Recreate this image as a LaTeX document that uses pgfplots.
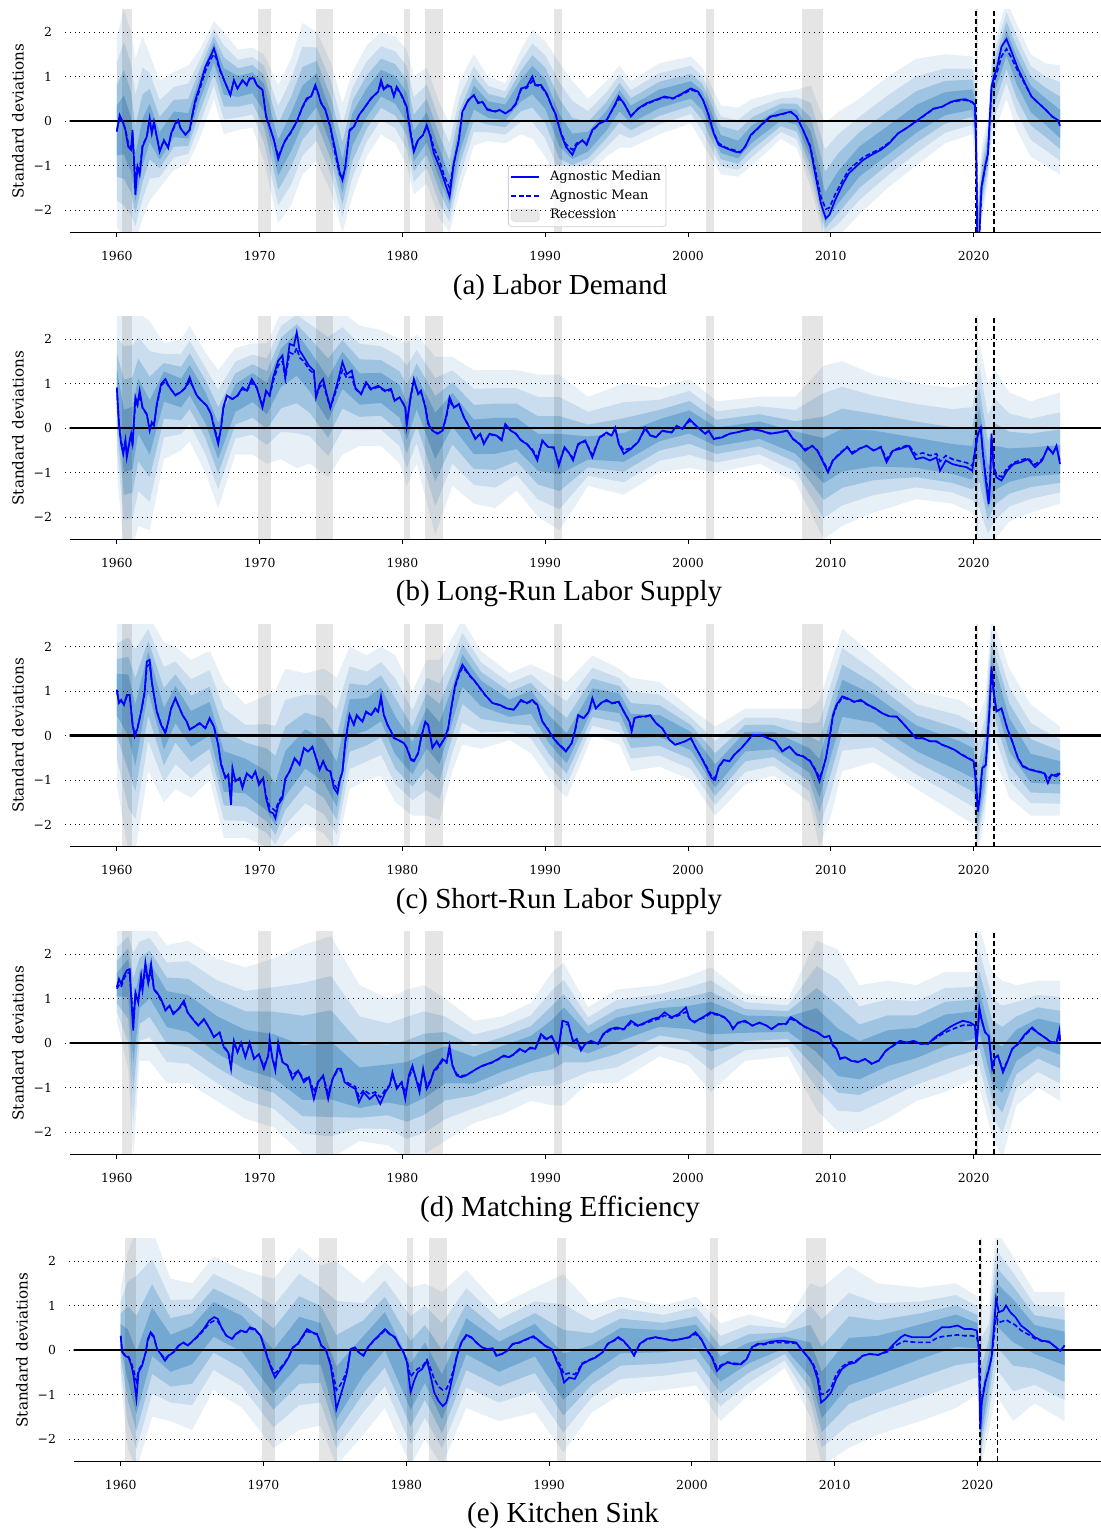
\documentclass[border=0pt]{standalone}
\usepackage{fontspec}
\setmainfont{DejaVu Serif}
\newfontfamily\capfont{Liberation Serif}
\usepackage{pgfplots}
\pgfplotsset{compat=1.18}
\usepackage{pgfplotstable}
\usepgfplotslibrary{fillbetween}

\definecolor{bandA}{RGB}{232,240,247}
\definecolor{bandB}{RGB}{201,221,238}
\definecolor{bandC}{RGB}{158,196,226}
\definecolor{bandD}{RGB}{115,168,210}

% ---------- (a) Labor Demand ----------
\pgfplotstableread{
x c lo hi
1960.0 -0.2 -2.4 1.9
1960.5 -0.1 -2.6 2.5
1961.0 -0.6 -2.7 2.0
1961.3 -1.5 -2.7 1.4
1961.8 -0.6 -2.2 1.9
1962.3 0.0 -1.8 1.5
1963.0 -0.65 -1.5 0.9
1964.0 -0.1 -1.1 1.1
1965.0 -0.2 -0.95 1.25
1965.8 0.75 -0.4 1.6
1966.8 1.6 0.5 2.25
1967.5 0.9 -0.3 2.0
1968.5 0.8 -0.2 1.6
1969.5 0.9 -0.15 1.65
1970.3 0.6 -0.9 1.5
1971.3 -0.85 -2.3 0.8
1972.2 -0.25 -1.9 1.4
1973.0 0.3 -1.2 2.2
1974.0 0.75 -0.9 2.0
1975.0 -0.2 -1.6 1.3
1975.8 -1.3 -2.5 0.4
1976.5 -0.15 -1.7 1.1
1977.5 0.4 -0.8 1.7
1978.5 0.85 -0.3 2.0
1979.5 0.7 -0.5 1.9
1980.3 0.3 -1.0 1.6
1980.8 -0.65 -1.65 1.0
1981.7 -0.15 -1.4 1.2
1982.6 -1.0 -2.2 0.4
1983.3 -1.65 -2.5 -0.05
1984.0 -0.4 -1.6 0.9
1985.0 0.55 -0.55 1.5
1986.0 0.25 -0.45 1.0
1987.2 0.2 -0.5 0.85
1988.3 0.7 -0.3 1.6
1989.1 0.95 -0.4 2.05
1990.0 0.65 -0.8 1.8
1991.0 -0.25 -1.5 1.3
1991.9 -0.7 -1.3 0.9
1993.0 -0.5 -1.2 0.5
1994.3 0.0 -0.8 0.9
1995.2 0.5 -0.6 1.25
1996.0 0.15 -0.6 0.9
1998.0 0.5 -0.3 1.3
2000.2 0.7 -0.05 1.45
2001.0 0.5 -0.5 1.2
2002.3 -0.55 -1.2 0.35
2003.5 -0.7 -1.25 0.3
2004.5 -0.3 -1.0 0.5
2006.5 0.15 -0.4 0.65
2007.6 0.1 -0.6 0.7
2008.6 -0.6 -1.5 0.8
2009.6 -2.15 -2.7 -0.05
2010.5 -1.6 -2.6 0.2
2012.0 -0.95 -2.1 0.5
2014.0 -0.5 -1.5 1.0
2016.0 0.0 -1.0 1.4
2018.0 0.35 -0.5 1.5
2019.9 0.45 -0.3 1.45
2020.15 0.2 -1.0 1.0
2020.3 -2.4 -2.7 -1.5
2020.6 -1.4 -2.2 -0.5
2021.0 -0.7 -1.4 0.1
2021.3 0.8 -0.4 1.6
2022.3 1.8 0.5 2.7
2023.0 1.2 -0.2 2.2
2024.0 0.55 -0.8 1.5
2025.0 0.25 -1.0 1.3
2026.05 -0.1 -1.2 1.25
}\bandA
\pgfplotstableread{
x med mean
1960.0 -0.24 -0.22
1960.2 0.13 0.1
1960.45 -0.05 -0.05
1960.6 -0.2 -0.18
1960.8 -0.58 -0.5
1961.0 -0.65 -0.6
1961.1 -0.2 -0.3
1961.3 -1.66 -1.3
1961.45 -1.03 -1.0
1961.6 -1.2 -1.1
1961.8 -0.58 -0.55
1962.1 -0.35 -0.35
1962.3 0.06 0.02
1962.45 -0.28 -0.25
1962.6 -0.02 -0.05
1963.0 -0.69 -0.65
1963.3 -0.43 -0.45
1963.6 -0.61 -0.58
1963.8 -0.28 -0.3
1964.1 -0.05 -0.08
1964.3 0.02 0.0
1964.45 -0.16 -0.15
1964.8 -0.31 -0.3
1965.1 -0.2 -0.2
1965.3 0.17 0.12
1965.5 0.47 0.42
1965.8 0.77 0.7
1966.2 1.22 1.12
1966.6 1.48 1.4
1966.8 1.63 1.5
1966.95 1.48 1.42
1967.2 1.18 1.15
1967.6 0.85 0.85
1967.95 0.58 0.6
1968.2 0.92 0.9
1968.45 0.73 0.73
1968.8 0.92 0.9
1969.1 0.81 0.8
1969.3 0.96 0.95
1969.6 0.96 0.95
1969.8 0.81 0.8
1970.2 0.7 0.7
1970.45 0.1 0.12
1970.7 -0.13 -0.12
1971.0 -0.43 -0.42
1971.3 -0.86 -0.8
1971.6 -0.58 -0.58
1971.8 -0.43 -0.45
1972.2 -0.24 -0.26
1972.6 -0.01 -0.02
1973.0 0.32 0.3
1973.3 0.51 0.48
1973.6 0.55 0.55
1973.9 0.81 0.75
1974.1 0.62 0.62
1974.3 0.4 0.42
1974.6 0.25 0.26
1974.95 -0.13 -0.15
1975.3 -0.65 -0.75
1975.6 -1.14 -1.2
1975.8 -1.33 -1.28
1976.0 -1.03 -1.05
1976.3 -0.2 -0.22
1976.6 -0.13 -0.14
1976.95 0.13 0.12
1977.3 0.28 0.28
1977.8 0.51 0.5
1978.3 0.66 0.66
1978.5 0.92 0.85
1978.7 0.71 0.7
1978.95 0.81 0.78
1979.2 0.77 0.75
1979.4 0.55 0.57
1979.6 0.77 0.74
1979.95 0.58 0.56
1980.3 0.32 0.3
1980.6 -0.35 -0.3
1980.8 -0.69 -0.62
1981.1 -0.43 -0.42
1981.45 -0.31 -0.32
1981.7 -0.09 -0.12
1981.95 -0.35 -0.3
1982.2 -0.73 -0.6
1982.6 -1.03 -0.9
1982.95 -1.36 -1.25
1983.3 -1.7 -1.5
1983.6 -0.95 -0.95
1983.95 -0.43 -0.45
1984.2 0.21 0.2
1984.6 0.47 0.45
1985.0 0.58 0.58
1985.3 0.4 0.42
1985.6 0.43 0.43
1985.95 0.25 0.27
1986.5 0.21 0.22
1986.8 0.25 0.24
1987.2 0.17 0.18
1987.6 0.25 0.25
1987.95 0.4 0.38
1988.3 0.73 0.7
1988.7 0.77 0.74
1989.1 1.0 0.9
1989.3 0.81 0.8
1989.7 0.81 0.78
1990.1 0.62 0.6
1990.5 0.3 0.3
1990.7 0.17 0.18
1991.1 -0.28 -0.26
1991.45 -0.58 -0.52
1991.9 -0.76 -0.65
1992.2 -0.54 -0.5
1992.6 -0.43 -0.45
1992.9 -0.54 -0.5
1993.3 -0.2 -0.22
1993.8 -0.05 -0.06
1994.3 0.02 0.02
1994.8 0.32 0.3
1995.15 0.55 0.5
1995.5 0.4 0.4
1996.0 0.1 0.12
1996.5 0.28 0.27
1997.1 0.4 0.38
1997.7 0.47 0.46
1998.35 0.55 0.53
1998.95 0.51 0.5
1999.6 0.62 0.6
2000.2 0.73 0.7
2000.7 0.66 0.65
2001.05 0.47 0.47
2001.4 0.17 0.18
2001.8 -0.28 -0.26
2002.15 -0.54 -0.5
2002.65 -0.61 -0.6
2003.3 -0.69 -0.66
2003.65 -0.71 -0.7
2004.0 -0.58 -0.57
2004.4 -0.31 -0.32
2004.9 -0.16 -0.17
2005.25 -0.05 -0.06
2005.75 0.1 0.09
2006.2 0.13 0.12
2006.7 0.17 0.16
2007.2 0.21 0.2
2007.6 0.1 0.1
2008.05 -0.2 -0.2
2008.55 -0.58 -0.55
2008.9 -1.18 -1.08
2009.3 -1.85 -1.7
2009.65 -2.19 -1.98
2009.9 -2.11 -1.95
2010.3 -1.78 -1.65
2010.8 -1.44 -1.35
2011.25 -1.18 -1.1
2011.75 -1.03 -0.96
2012.25 -0.88 -0.82
2012.85 -0.76 -0.72
2013.5 -0.65 -0.62
2014.1 -0.5 -0.48
2014.7 -0.28 -0.28
2015.3 -0.16 -0.16
2015.95 -0.01 -0.02
2016.55 0.13 0.12
2017.2 0.28 0.27
2017.8 0.32 0.32
2018.4 0.43 0.42
2018.9 0.47 0.45
2019.4 0.49 0.47
2019.9 0.43 0.42
2020.1 0.36 0.35
2020.2 -1.03 -1.0
2020.25 -2.6 -2.5
2020.4 -2.6 -2.6
2020.55 -1.48 -1.5
2020.8 -1.03 -1.05
2021.0 -0.73 -0.75
2021.25 0.77 0.7
2021.4 0.96 0.85
2021.65 1.22 1.1
2021.95 1.67 1.45
2022.3 1.84 1.62
2022.6 1.6 1.45
2023.1 1.18 1.12
2023.55 0.88 0.85
2024.05 0.55 0.55
2024.55 0.4 0.4
2025.05 0.25 0.25
2025.5 0.1 0.1
2025.9 0.02 0.02
2026.05 -0.11 -0.1
}\lineA

% ---------- (b) Long-Run Labor Supply ----------
\pgfplotstableread{
x c lo hi
1960.0 0.9 -1.0 2.5
1960.5 -0.4 -2.7 2.7
1961.1 -0.3 -2.7 2.7
1961.5 0.6 -2.2 2.6
1962.3 0.0 -2.3 2.4
1963.3 1.05 -0.7 1.9
1964.5 0.8 -0.5 2.0
1965.1 1.1 -0.3 2.3
1966.2 0.5 -1.0 1.7
1967.1 -0.3 -1.8 1.3
1968.3 0.7 -0.6 1.8
1969.5 1.0 -0.6 1.9
1970.5 0.7 -0.8 1.9
1971.5 1.5 -0.7 2.6
1972.6 1.9 -0.9 2.8
1973.5 1.4 -0.8 2.7
1974.8 0.6 -1.1 2.6
1975.8 1.4 -0.6 2.6
1977.0 0.85 -0.4 2.3
1978.5 0.9 -0.4 2.2
1979.8 0.6 -0.8 2.0
1980.3 0.1 -1.3 1.9
1981.0 0.85 -0.8 2.1
1982.3 -0.1 -2.4 1.6
1983.5 0.5 -1.3 1.6
1985.0 -0.2 -1.7 1.3
1986.5 -0.15 -1.8 1.3
1988.0 -0.15 -1.4 1.3
1989.5 -0.6 -2.0 1.2
1991.0 -0.6 -2.3 1.2
1993.0 -0.5 -1.3 0.7
1995.5 -0.5 -1.5 1.0
1998.0 -0.05 -1.0 0.9
2000.1 0.15 -0.9 1.1
2002.0 -0.2 -1.0 0.6
2005.0 -0.05 -0.8 0.7
2007.5 -0.35 -1.2 0.7
2009.5 -0.8 -2.5 1.4
2010.8 -0.55 -2.2 1.5
2013.0 -0.5 -1.9 1.2
2016.0 -0.65 -1.6 1.0
2018.5 -0.8 -1.7 0.9
2019.9 -0.9 -1.9 1.0
2020.4 0.0 -2.5 1.9
2021.0 -1.5 -2.7 1.0
2021.5 -1.0 -2.5 1.3
2022.5 -0.9 -2.1 0.8
2024.0 -0.8 -1.9 0.6
2026.05 -0.8 -1.7 0.8
}\bandB
\pgfplotstableread{
x med mean
1960.0 0.91 0.9
1960.15 0.09 0.1
1960.3 -0.36 -0.3
1960.45 -0.58 -0.5
1960.6 -0.28 -0.3
1960.7 -0.66 -0.6
1960.9 -0.28 -0.3
1961.0 -0.13 -0.15
1961.1 -0.4 -0.35
1961.3 0.69 0.6
1961.45 0.54 0.5
1961.6 0.84 0.75
1961.8 0.46 0.45
1962.1 0.31 0.3
1962.3 -0.06 -0.02
1962.45 0.13 0.1
1962.6 0.05 0.06
1962.8 0.54 0.5
1963.1 0.99 0.95
1963.4 1.1 1.05
1963.7 0.91 0.9
1964.1 0.73 0.75
1964.45 0.8 0.8
1964.8 0.91 0.9
1965.1 1.14 1.05
1965.3 0.95 0.95
1965.6 0.73 0.72
1965.95 0.61 0.6
1966.3 0.5 0.5
1966.6 0.31 0.32
1966.8 0.01 0.05
1967.1 -0.36 -0.3
1967.3 0.01 0.0
1967.45 0.46 0.42
1967.7 0.73 0.7
1968.1 0.65 0.65
1968.45 0.73 0.72
1968.8 0.91 0.88
1969.1 0.84 0.82
1969.45 1.1 1.02
1969.8 0.91 0.9
1970.2 0.46 0.5
1970.45 0.84 0.8
1970.7 0.73 0.72
1970.95 1.14 1.05
1971.3 1.51 1.4
1971.6 1.63 1.5
1971.8 1.14 1.1
1972.1 1.89 1.7
1972.4 1.85 1.65
1972.6 2.15 1.8
1972.8 1.74 1.58
1973.1 1.59 1.5
1973.45 1.4 1.32
1973.8 1.29 1.22
1973.95 0.69 0.7
1974.2 0.99 0.92
1974.45 1.1 1.0
1974.7 0.76 0.72
1974.95 0.46 0.45
1975.3 0.84 0.78
1975.6 1.21 1.1
1975.8 1.48 1.3
1976.1 1.21 1.12
1976.45 1.29 1.15
1976.7 0.91 0.88
1977.1 0.76 0.76
1977.45 1.03 0.98
1977.8 0.88 0.86
1978.3 0.95 0.92
1978.8 0.84 0.82
1979.2 0.88 0.85
1979.45 0.61 0.62
1979.8 0.69 0.68
1980.2 0.46 0.48
1980.3 0.05 0.12
1980.6 0.76 0.72
1980.8 1.1 1.02
1981.1 0.76 0.8
1981.3 0.84 0.8
1981.6 0.46 0.5
1981.8 0.09 0.12
1982.1 -0.06 -0.05
1982.45 -0.13 -0.12
1982.8 -0.06 -0.08
1983.1 0.31 0.28
1983.3 0.69 0.6
1983.6 0.46 0.46
1983.95 0.54 0.52
1984.3 0.24 0.25
1984.7 0.01 0.02
1985.1 -0.25 -0.22
1985.45 -0.13 -0.14
1985.7 -0.36 -0.32
1986.1 -0.13 -0.15
1986.6 -0.17 -0.17
1986.95 -0.28 -0.25
1987.2 0.09 0.05
1987.6 -0.06 -0.06
1987.95 -0.13 -0.13
1988.3 -0.28 -0.27
1988.7 -0.36 -0.35
1989.1 -0.51 -0.48
1989.45 -0.73 -0.66
1989.8 -0.28 -0.3
1990.2 -0.43 -0.42
1990.6 -0.43 -0.45
1990.95 -0.85 -0.8
1991.35 -0.43 -0.45
1991.7 -0.58 -0.56
1991.95 -0.73 -0.68
1992.3 -0.36 -0.38
1992.8 -0.28 -0.3
1993.3 -0.66 -0.6
1993.8 -0.21 -0.22
1994.3 -0.1 -0.12
1994.65 -0.17 -0.17
1994.9 0.01 -0.02
1995.15 -0.36 -0.34
1995.5 -0.58 -0.5
1996.0 -0.47 -0.45
1996.5 -0.32 -0.32
1997.0 0.01 -0.02
1997.35 -0.17 -0.16
1997.75 -0.21 -0.2
1998.2 -0.06 -0.07
1998.85 -0.1 -0.1
1999.2 0.05 0.04
1999.6 -0.02 -0.02
2000.1 0.2 0.16
2000.45 0.09 0.08
2000.8 -0.02 -0.02
2001.2 -0.13 -0.12
2001.45 -0.06 -0.07
2001.8 -0.25 -0.24
2002.4 -0.21 -0.2
2002.9 -0.13 -0.13
2003.4 -0.1 -0.1
2003.9 -0.06 -0.06
2004.5 -0.02 -0.03
2005.1 -0.06 -0.06
2005.75 -0.13 -0.12
2006.35 -0.1 -0.1
2006.95 -0.06 -0.06
2007.35 -0.25 -0.24
2007.8 -0.36 -0.35
2008.2 -0.51 -0.48
2008.7 -0.4 -0.4
2009.05 -0.51 -0.5
2009.4 -0.73 -0.7
2009.8 -1.0 -0.95
2010.15 -0.73 -0.72
2010.65 -0.58 -0.56
2011.15 -0.43 -0.42
2011.5 -0.58 -0.55
2012.0 -0.47 -0.46
2012.5 -0.4 -0.4
2013.0 -0.51 -0.5
2013.5 -0.43 -0.42
2013.9 -0.77 -0.7
2014.35 -0.51 -0.5
2014.85 -0.47 -0.44
2015.45 -0.4 -0.38
2015.95 -0.7 -0.6
2016.45 -0.66 -0.56
2016.95 -0.73 -0.62
2017.4 -0.66 -0.58
2017.65 -0.96 -0.75
2018.05 -0.73 -0.62
2018.5 -0.81 -0.7
2019.0 -0.85 -0.74
2019.5 -0.88 -0.78
2019.9 -0.96 -0.85
2020.1 -0.51 -0.5
2020.3 -0.13 -0.15
2020.5 0.01 -0.05
2020.65 -0.58 -0.55
2020.85 -1.18 -1.1
2021.05 -1.71 -1.5
2021.15 -1.26 -1.2
2021.25 -0.13 -0.25
2021.4 -0.88 -0.85
2021.6 -1.11 -1.05
2021.95 -1.18 -1.1
2022.35 -0.96 -0.9
2022.8 -0.81 -0.78
2023.3 -0.77 -0.72
2023.8 -0.7 -0.68
2024.3 -0.88 -0.82
2024.8 -0.73 -0.7
2025.2 -0.43 -0.45
2025.55 -0.58 -0.56
2025.8 -0.4 -0.42
2026.05 -0.81 -0.75
}\lineB

% ---------- (c) Short-Run Labor Supply ----------
\pgfplotstableread{
x c lo hi
1960.0 1.0 -1.1 2.5
1960.8 0.9 -2.6 2.7
1961.3 0.0 -2.6 2.7
1962.2 1.6 -0.8 2.7
1963.3 0.1 -1.5 2.1
1964.1 0.8 -1.2 2.0
1965.2 0.15 -1.4 1.7
1966.5 0.35 -1.0 1.9
1967.5 -0.9 -2.3 1.2
1969.0 -0.95 -2.3 0.7
1970.5 -1.4 -2.5 0.9
1971.1 -1.8 -2.7 1.0
1971.8 -1.0 -2.4 1.5
1973.2 -0.3 -2.0 1.4
1974.5 -0.65 -2.2 1.5
1975.4 -1.25 -2.6 1.3
1976.3 0.4 -1.2 2.0
1977.5 0.5 -1.0 1.8
1978.5 0.75 -0.9 2.0
1979.5 -0.05 -1.5 1.8
1980.7 -0.55 -1.8 1.0
1981.7 0.25 -1.8 1.7
1982.6 -0.2 -1.9 1.7
1983.5 0.7 -0.8 2.2
1984.2 1.55 -0.2 2.6
1985.5 1.0 -0.3 1.9
1987.5 0.6 -0.1 1.4
1989.0 0.8 -0.4 1.6
1990.3 0.1 -1.0 1.4
1991.5 -0.35 -1.4 1.2
1993.3 0.8 0.0 1.8
1995.2 0.75 -0.2 1.5
1996.0 0.2 -0.8 1.3
1998.0 0.2 -0.7 1.2
2000.2 -0.1 -1.0 0.6
2001.9 -0.95 -1.8 0.2
2004.0 -0.1 -1.1 0.6
2006.0 -0.1 -0.9 0.6
2008.5 -0.6 -1.5 0.6
2009.2 -1.0 -2.5 0.8
2010.0 0.0 -1.8 1.6
2010.8 0.85 -0.8 2.4
2013.0 0.6 -0.6 1.8
2016.0 -0.05 -1.2 1.0
2019.0 -0.45 -1.8 0.8
2020.0 -0.6 -2.0 0.6
2020.3 -1.7 -2.7 0.4
2020.8 -0.7 -1.8 0.8
2021.25 1.5 -0.3 2.7
2022.5 0.0 -1.4 1.5
2024.0 -0.8 -1.8 0.7
2026.05 -0.85 -1.8 0.2
}\bandC
\pgfplotstableread{
x med mean
1960.0 1.03 1.0
1960.15 0.73 0.75
1960.3 0.8 0.78
1960.5 0.69 0.7
1960.7 0.91 0.88
1960.9 0.91 0.88
1961.1 0.24 0.28
1961.25 -0.02 0.02
1961.45 0.16 0.18
1961.7 0.54 0.52
1961.95 0.99 0.95
1962.1 1.66 1.55
1962.3 1.7 1.6
1962.45 1.21 1.2
1962.6 0.91 0.9
1962.8 0.54 0.55
1963.1 0.24 0.25
1963.4 0.05 0.07
1963.6 0.31 0.3
1963.8 0.61 0.6
1964.1 0.84 0.82
1964.3 0.69 0.68
1964.6 0.46 0.46
1964.9 0.31 0.31
1965.1 0.13 0.14
1965.45 0.2 0.2
1965.8 0.28 0.27
1966.2 0.16 0.17
1966.5 0.39 0.37
1966.8 0.2 0.2
1967.1 -0.21 -0.2
1967.3 -0.66 -0.62
1967.6 -0.96 -0.92
1967.8 -0.88 -0.88
1968.0 -1.56 -1.35
1968.1 -0.73 -0.78
1968.3 -1.03 -1.0
1968.6 -0.96 -0.95
1968.8 -1.18 -1.12
1969.1 -0.85 -0.86
1969.45 -0.96 -0.94
1969.7 -0.81 -0.82
1969.95 -1.11 -1.06
1970.25 -0.96 -0.96
1970.45 -1.41 -1.35
1970.7 -1.71 -1.6
1970.95 -1.75 -1.65
1971.1 -1.86 -1.7
1971.3 -1.56 -1.5
1971.6 -1.41 -1.35
1971.8 -0.96 -0.98
1972.1 -0.81 -0.8
1972.45 -0.51 -0.52
1972.8 -0.66 -0.64
1973.1 -0.28 -0.3
1973.4 -0.36 -0.36
1973.7 -0.25 -0.27
1973.95 -0.51 -0.5
1974.2 -0.77 -0.74
1974.45 -0.58 -0.58
1974.7 -0.77 -0.75
1974.95 -0.81 -0.8
1975.2 -1.18 -1.1
1975.45 -1.3 -1.2
1975.6 -1.03 -1.0
1975.8 -0.81 -0.82
1976.0 -0.13 -0.15
1976.3 0.46 0.44
1976.6 0.24 0.25
1976.8 0.46 0.44
1977.2 0.31 0.31
1977.45 0.54 0.52
1977.8 0.46 0.46
1978.1 0.61 0.58
1978.3 0.54 0.53
1978.5 0.88 0.8
1978.7 0.46 0.47
1978.95 0.24 0.25
1979.2 0.09 0.1
1979.4 -0.06 -0.05
1979.7 -0.1 -0.1
1980.1 -0.17 -0.17
1980.3 -0.28 -0.27
1980.6 -0.55 -0.52
1980.8 -0.58 -0.56
1981.1 -0.4 -0.4
1981.3 -0.06 -0.07
1981.6 0.31 0.3
1981.8 0.24 0.24
1982.1 -0.28 -0.25
1982.4 -0.13 -0.13
1982.6 -0.25 -0.24
1982.95 -0.06 -0.07
1983.2 0.16 0.15
1983.45 0.69 0.66
1983.7 1.14 1.1
1984.0 1.44 1.4
1984.2 1.59 1.52
1984.45 1.48 1.45
1984.7 1.36 1.34
1985.1 1.21 1.2
1985.45 1.06 1.05
1985.8 0.91 0.9
1986.3 0.73 0.73
1986.8 0.69 0.68
1987.3 0.61 0.61
1987.8 0.58 0.58
1988.3 0.8 0.78
1988.7 0.73 0.72
1989.1 0.8 0.78
1989.45 0.69 0.68
1989.8 0.31 0.32
1990.2 0.13 0.14
1990.55 -0.05 -0.04
1990.85 -0.17 -0.16
1991.45 -0.36 -0.34
1991.85 -0.17 -0.18
1992.1 0.13 0.12
1992.3 0.46 0.44
1992.7 0.39 0.39
1993.05 0.54 0.53
1993.3 0.84 0.8
1993.55 0.61 0.61
1993.9 0.73 0.72
1994.3 0.8 0.78
1994.65 0.73 0.72
1995.15 0.76 0.74
1995.5 0.54 0.54
1995.9 0.31 0.32
1996.05 0.09 0.12
1996.25 0.39 0.38
1996.6 0.43 0.42
1997.0 0.43 0.42
1997.35 0.46 0.45
1997.75 0.28 0.28
1998.2 0.16 0.16
1998.7 -0.1 -0.1
1999.1 -0.21 -0.2
1999.45 -0.17 -0.17
1999.8 -0.13 -0.13
2000.2 -0.06 -0.07
2000.55 -0.28 -0.28
2000.95 -0.51 -0.5
2001.3 -0.73 -0.7
2001.65 -0.96 -0.92
2001.9 -1.0 -0.95
2002.15 -0.7 -0.72
2002.5 -0.55 -0.56
2002.9 -0.58 -0.57
2003.25 -0.43 -0.43
2003.75 -0.28 -0.28
2004.15 -0.13 -0.13
2004.5 0.01 0.0
2005.1 0.01 0.0
2005.6 -0.06 -0.06
2006.1 -0.13 -0.13
2006.6 -0.36 -0.34
2007.1 -0.25 -0.25
2007.6 -0.43 -0.42
2008.05 -0.47 -0.46
2008.55 -0.58 -0.57
2008.95 -0.81 -0.78
2009.2 -1.03 -0.95
2009.4 -0.81 -0.8
2009.65 -0.51 -0.52
2009.9 -0.06 -0.08
2010.15 0.46 0.42
2010.4 0.69 0.66
2010.8 0.88 0.85
2011.15 0.84 0.82
2011.65 0.76 0.75
2012.1 0.8 0.78
2012.6 0.69 0.68
2013.1 0.61 0.6
2013.6 0.5 0.5
2014.1 0.43 0.43
2014.6 0.43 0.42
2014.95 0.31 0.31
2015.45 0.13 0.13
2015.95 -0.06 -0.06
2016.45 -0.06 -0.06
2016.95 -0.13 -0.13
2017.4 -0.13 -0.14
2017.8 -0.21 -0.21
2018.15 -0.25 -0.25
2018.65 -0.32 -0.32
2019.15 -0.43 -0.42
2019.6 -0.51 -0.5
2020.0 -0.58 -0.57
2020.15 -1.03 -0.98
2020.3 -1.71 -1.6
2020.45 -1.33 -1.3
2020.6 -0.73 -0.75
2020.85 -0.66 -0.66
2021.1 0.54 0.5
2021.25 1.55 1.45
2021.4 0.99 0.98
2021.6 0.54 0.55
2021.95 0.61 0.6
2022.35 0.16 0.17
2022.7 -0.13 -0.13
2023.1 -0.51 -0.5
2023.45 -0.7 -0.68
2023.95 -0.77 -0.76
2024.45 -0.81 -0.8
2024.95 -0.85 -0.84
2025.2 -1.07 -0.98
2025.45 -0.88 -0.88
2025.8 -0.92 -0.88
2026.05 -0.85 -0.82
}\lineC

% ---------- (d) Matching Efficiency ----------
\pgfplotstableread{
x c lo hi
1960.0 1.25 0.5 2.5
1960.8 1.6 -0.6 2.7
1961.15 0.3 -2.6 2.7
1961.6 1.2 -0.4 2.7
1962.3 1.5 -0.4 2.7
1963.5 0.8 -0.9 2.2
1965.0 0.65 -0.9 2.3
1967.0 0.15 -1.3 1.9
1969.0 -0.2 -1.7 1.7
1971.0 -0.4 -1.9 1.9
1973.0 -0.85 -2.5 2.2
1975.0 -0.8 -2.6 2.4
1977.0 -1.2 -2.2 1.3
1979.0 -1.0 -2.3 1.0
1980.3 -1.0 -2.6 1.2
1981.5 -0.8 -2.5 1.3
1983.0 -0.45 -2.2 1.0
1985.0 -0.6 -1.8 0.5
1987.0 -0.3 -1.6 0.6
1989.0 -0.1 -1.3 0.9
1990.5 0.15 -1.4 1.6
1991.3 0.45 -1.4 1.8
1993.0 0.0 -0.9 0.8
1995.0 0.35 -0.9 1.2
1998.0 0.6 -0.3 1.3
2000.0 0.6 -0.5 1.5
2001.6 0.65 -1.1 1.7
2004.0 0.45 -0.4 1.1
2007.0 0.45 -0.3 1.0
2009.0 0.25 -1.5 2.3
2010.5 -0.3 -2.0 2.1
2012.0 -0.4 -2.0 1.3
2014.0 -0.1 -1.7 1.4
2016.0 0.0 -1.3 1.3
2018.0 0.3 -1.1 1.6
2020.0 0.4 -0.8 1.6
2020.4 0.7 -1.0 2.6
2021.3 -0.5 -2.1 1.6
2022.0 -0.6 -2.6 1.4
2023.0 -0.05 -1.4 1.3
2024.5 0.25 -1.0 1.4
2026.05 0.1 -1.3 1.4
}\bandD
\pgfplotstableread{
x med mean
1960.0 1.25 1.22
1960.15 1.44 1.3
1960.3 1.33 1.25
1960.5 1.51 1.45
1960.7 1.63 1.55
1960.9 1.66 1.6
1961.0 1.06 1.1
1961.15 0.28 0.5
1961.3 1.14 1.05
1961.5 0.91 0.95
1961.7 1.51 1.4
1961.8 1.21 1.2
1962.0 1.81 1.65
1962.2 1.36 1.35
1962.4 1.78 1.6
1962.6 1.21 1.2
1962.8 1.14 1.12
1963.1 0.99 0.95
1963.4 0.73 0.78
1963.7 0.84 0.82
1963.95 0.65 0.68
1964.3 0.76 0.75
1964.7 0.95 0.88
1964.95 0.69 0.7
1965.3 0.54 0.55
1965.7 0.39 0.4
1966.1 0.54 0.52
1966.45 0.35 0.36
1966.8 0.13 0.15
1967.2 0.24 0.22
1967.5 -0.1 -0.08
1967.8 -0.21 -0.2
1968.0 -0.58 -0.45
1968.2 0.05 0.0
1968.45 -0.21 -0.2
1968.7 0.01 -0.02
1969.0 -0.32 -0.3
1969.3 0.01 -0.03
1969.6 -0.36 -0.32
1969.95 -0.25 -0.26
1970.3 -0.58 -0.52
1970.6 -0.28 -0.3
1970.7 0.09 -0.05
1970.9 -0.36 -0.34
1971.1 -0.62 -0.55
1971.3 0.01 -0.1
1971.6 -0.43 -0.42
1971.95 -0.51 -0.5
1972.3 -0.81 -0.72
1972.7 -0.62 -0.62
1973.1 -0.88 -0.82
1973.45 -0.77 -0.76
1973.8 -1.26 -1.1
1974.1 -0.88 -0.86
1974.45 -0.73 -0.76
1974.8 -1.26 -1.12
1975.1 -0.81 -0.82
1975.45 -0.58 -0.62
1975.7 -0.58 -0.62
1975.95 -0.88 -0.85
1976.3 -0.96 -0.92
1976.7 -1.03 -0.98
1976.95 -1.33 -1.2
1977.3 -1.11 -1.05
1977.7 -1.26 -1.15
1978.1 -1.15 -1.1
1978.45 -1.37 -1.22
1978.8 -1.11 -1.05
1979.1 -0.96 -0.95
1979.3 -0.66 -0.72
1979.6 -1.03 -0.98
1979.95 -0.88 -0.88
1980.2 -1.26 -1.12
1980.45 -0.73 -0.78
1980.7 -0.51 -0.58
1980.95 -0.81 -0.8
1981.2 -1.11 -1.0
1981.45 -0.58 -0.65
1981.7 -1.03 -0.95
1981.95 -0.88 -0.85
1982.2 -0.62 -0.65
1982.5 -0.51 -0.55
1982.8 -0.36 -0.4
1983.1 -0.43 -0.45
1983.3 -0.06 -0.15
1983.5 -0.51 -0.5
1983.8 -0.73 -0.7
1984.1 -0.77 -0.74
1984.45 -0.73 -0.72
1984.8 -0.66 -0.66
1985.2 -0.58 -0.58
1985.6 -0.51 -0.52
1985.95 -0.47 -0.48
1986.3 -0.43 -0.44
1986.7 -0.36 -0.37
1987.1 -0.28 -0.3
1987.45 -0.32 -0.32
1987.8 -0.25 -0.26
1988.2 -0.13 -0.15
1988.6 -0.2 -0.2
1988.95 -0.1 -0.12
1989.3 -0.13 -0.13
1989.7 0.2 0.15
1990.1 0.09 0.08
1990.45 0.16 0.14
1990.65 0.02 0.03
1990.9 -0.2 -0.15
1991.2 0.5 0.42
1991.6 0.46 0.42
1991.95 0.02 0.05
1992.2 0.09 0.08
1992.5 -0.17 -0.12
1992.8 -0.02 -0.02
1993.2 0.05 0.04
1993.7 -0.02 -0.02
1994.05 0.2 0.18
1994.5 0.31 0.28
1995.0 0.35 0.32
1995.5 0.31 0.3
1996.0 0.5 0.45
1996.5 0.39 0.38
1997.0 0.46 0.44
1997.5 0.54 0.5
1998.0 0.58 0.55
1998.35 0.69 0.62
1998.85 0.58 0.56
1999.35 0.65 0.62
1999.85 0.8 0.7
2000.1 0.54 0.55
2000.45 0.46 0.48
2000.8 0.54 0.53
2001.2 0.61 0.58
2001.55 0.69 0.66
2002.05 0.65 0.63
2002.55 0.58 0.57
2002.9 0.46 0.46
2003.15 0.31 0.33
2003.5 0.46 0.45
2004.0 0.5 0.48
2004.5 0.39 0.39
2005.0 0.46 0.45
2005.5 0.39 0.39
2005.85 0.31 0.32
2006.35 0.43 0.42
2006.85 0.43 0.42
2007.2 0.58 0.54
2007.6 0.5 0.49
2008.05 0.39 0.38
2008.55 0.31 0.3
2009.05 0.24 0.24
2009.55 0.13 0.13
2009.9 0.16 0.15
2010.15 -0.06 -0.05
2010.4 -0.13 -0.13
2010.65 -0.36 -0.34
2011.0 -0.32 -0.32
2011.4 -0.4 -0.39
2011.9 -0.43 -0.42
2012.4 -0.36 -0.36
2012.85 -0.47 -0.45
2013.35 -0.4 -0.4
2013.85 -0.17 -0.18
2014.35 -0.06 -0.07
2014.85 0.05 0.04
2015.3 0.01 0.01
2015.8 0.05 0.04
2016.3 -0.02 -0.02
2016.8 -0.02 -0.02
2017.3 0.13 0.1
2017.8 0.24 0.2
2018.3 0.35 0.28
2018.75 0.43 0.34
2019.25 0.5 0.4
2019.75 0.46 0.4
2020.1 0.39 0.38
2020.2 -0.13 0.0
2020.3 0.31 0.3
2020.4 0.8 0.72
2020.55 0.54 0.52
2020.8 0.24 0.24
2021.05 0.16 0.16
2021.3 -0.58 -0.5
2021.5 -0.32 -0.32
2021.7 -0.28 -0.3
2022.05 -0.66 -0.6
2022.35 -0.43 -0.42
2022.7 -0.13 -0.14
2023.1 -0.02 -0.03
2023.6 0.2 0.18
2024.1 0.35 0.32
2024.45 0.24 0.24
2024.95 0.13 0.13
2025.45 0.01 0.02
2025.8 0.01 0.02
2026.0 0.28 0.2
2026.05 0.05 0.05
}\lineD

% ---------- (e) Kitchen Sink ----------
\pgfplotstableread{
x c lo hi
1960.0 0.3 -0.7 1.4
1960.5 -0.15 -2.2 2.2
1961.1 -1.0 -2.7 2.7
1962.2 0.35 -1.5 2.7
1963.5 -0.1 -1.6 1.6
1965.0 0.2 -1.8 1.5
1966.5 0.72 -0.9 2.1
1968.5 0.4 -1.3 1.8
1970.7 -0.55 -2.2 1.6
1972.5 0.2 -1.8 2.3
1974.0 0.15 -1.7 1.9
1975.1 -1.2 -2.6 2.0
1977.0 -0.1 -1.9 1.5
1978.5 0.45 -1.3 2.0
1980.3 -0.9 -2.6 1.4
1981.3 -0.3 -2.0 1.5
1982.5 -1.2 -2.6 1.3
1984.2 0.33 -1.3 1.8
1986.5 -0.1 -1.6 1.0
1989.0 0.3 -1.4 1.4
1991.0 -0.7 -2.3 1.7
1993.0 -0.2 -1.4 1.0
1995.0 0.25 -1.0 1.2
1998.0 0.25 -0.9 1.0
2000.3 0.35 -0.8 1.2
2002.0 -0.4 -1.6 0.6
2004.0 -0.05 -1.0 0.8
2006.5 0.2 -0.4 0.6
2008.3 -0.3 -1.5 1.5
2009.1 -1.15 -2.6 1.4
2011.0 -0.3 -2.2 1.9
2013.0 -0.1 -1.9 1.5
2016.0 0.29 -1.6 1.4
2018.5 0.55 -1.3 1.5
2020.0 0.4 -1.0 1.2
2020.2 -1.8 -2.7 1.0
2020.8 -0.45 -1.8 1.0
2021.3 1.1 -1.0 2.7
2022.5 0.8 -1.6 2.1
2024.0 0.3 -1.2 1.3
2026.1 0.1 -1.6 1.3
}\bandE
\pgfplotstableread{
x med mean
1960.0 0.32 0.3
1960.1 -0.05 -0.02
1960.3 -0.13 -0.12
1960.55 -0.17 -0.15
1960.75 -0.35 -0.3
1960.9 -0.58 -0.45
1961.1 -1.1 -0.7
1961.25 -0.5 -0.45
1961.5 -0.35 -0.32
1961.75 -0.05 -0.06
1961.9 0.25 0.22
1962.1 0.4 0.36
1962.3 0.32 0.3
1962.55 0.02 0.02
1962.8 -0.09 -0.08
1963.1 -0.24 -0.2
1963.35 -0.13 -0.12
1963.7 -0.05 -0.05
1964.05 0.1 0.09
1964.4 0.17 0.16
1964.7 0.1 0.1
1965.05 0.21 0.2
1965.4 0.32 0.3
1965.8 0.47 0.44
1966.2 0.66 0.6
1966.55 0.74 0.66
1966.8 0.7 0.64
1967.05 0.51 0.5
1967.4 0.32 0.32
1967.8 0.25 0.25
1968.05 0.36 0.35
1968.4 0.44 0.42
1968.8 0.4 0.4
1969.05 0.51 0.48
1969.4 0.47 0.45
1969.8 0.32 0.32
1970.05 0.06 0.08
1970.3 -0.2 -0.18
1970.55 -0.43 -0.38
1970.8 -0.62 -0.52
1971.05 -0.5 -0.45
1971.4 -0.35 -0.32
1971.75 -0.17 -0.16
1972.05 0.06 0.05
1972.4 0.14 0.13
1972.75 0.32 0.3
1973.05 0.47 0.42
1973.4 0.4 0.38
1973.75 0.36 0.35
1974.05 0.1 0.1
1974.35 0.02 0.02
1974.7 -0.35 -0.3
1974.95 -0.88 -0.65
1975.1 -1.33 -0.9
1975.35 -1.07 -0.8
1975.6 -0.8 -0.65
1975.85 -0.5 -0.45
1976.1 0.02 0.02
1976.4 0.06 0.05
1976.65 -0.05 -0.04
1977.0 -0.13 -0.12
1977.3 0.06 0.05
1977.7 0.21 0.2
1978.05 0.32 0.3
1978.5 0.47 0.44
1978.85 0.36 0.35
1979.2 0.29 0.28
1979.5 0.1 0.1
1979.8 -0.05 -0.05
1980.05 -0.28 -0.25
1980.3 -0.95 -0.6
1980.55 -0.69 -0.5
1980.8 -0.5 -0.42
1981.1 -0.43 -0.38
1981.45 -0.24 -0.22
1981.7 -0.58 -0.42
1981.95 -0.95 -0.65
1982.25 -1.14 -0.82
1982.55 -1.26 -0.9
1982.8 -1.18 -0.88
1983.0 -0.95 -0.75
1983.25 -0.58 -0.5
1983.55 -0.13 -0.12
1983.85 0.17 0.15
1984.2 0.34 0.32
1984.55 0.29 0.28
1984.9 0.17 0.17
1985.3 0.06 0.06
1985.7 0.02 0.02
1986.05 0.04 0.03
1986.3 -0.13 -0.11
1986.7 -0.09 -0.09
1987.05 -0.02 -0.02
1987.45 0.14 0.13
1987.9 0.17 0.16
1988.45 0.25 0.24
1988.9 0.31 0.29
1989.3 0.21 0.2
1989.7 0.1 0.1
1990.2 0.02 0.0
1990.55 -0.28 -0.22
1990.8 -0.43 -0.35
1991.05 -0.73 -0.55
1991.4 -0.62 -0.52
1991.8 -0.65 -0.55
1992.05 -0.5 -0.45
1992.3 -0.32 -0.3
1992.75 -0.24 -0.23
1993.25 -0.17 -0.16
1993.75 -0.05 -0.05
1994.1 0.14 0.13
1994.5 0.21 0.2
1994.85 0.29 0.27
1995.2 0.21 0.2
1995.6 0.06 0.07
1995.95 -0.13 -0.1
1996.35 0.14 0.13
1996.85 0.25 0.24
1997.45 0.29 0.28
1998.05 0.25 0.25
1998.65 0.21 0.22
1999.3 0.25 0.25
1999.8 0.29 0.28
2000.25 0.4 0.36
2000.65 0.25 0.24
2001.0 0.02 0.03
2001.4 -0.17 -0.15
2001.75 -0.47 -0.4
2002.1 -0.35 -0.33
2002.5 -0.28 -0.27
2003.0 -0.32 -0.3
2003.45 -0.32 -0.3
2003.85 -0.2 -0.19
2004.2 0.06 0.05
2004.6 0.14 0.12
2005.05 0.14 0.12
2005.55 0.19 0.16
2006.2 0.21 0.17
2006.8 0.19 0.16
2007.3 0.17 0.15
2007.65 0.02 0.02
2008.15 -0.17 -0.16
2008.5 -0.35 -0.32
2008.8 -0.65 -0.55
2009.05 -1.18 -1.0
2009.35 -1.1 -0.98
2009.75 -0.95 -0.85
2010.1 -0.65 -0.55
2010.5 -0.43 -0.38
2010.95 -0.32 -0.28
2011.45 -0.28 -0.25
2011.95 -0.13 -0.13
2012.45 -0.09 -0.09
2013.05 -0.11 -0.11
2013.7 -0.02 -0.04
2014.15 0.14 0.08
2014.65 0.29 0.17
2014.9 0.34 0.2
2015.4 0.29 0.18
2016.0 0.29 0.17
2016.65 0.29 0.17
2017.1 0.4 0.26
2017.5 0.51 0.3
2018.0 0.51 0.32
2018.6 0.55 0.34
2019.1 0.47 0.32
2019.6 0.47 0.32
2019.95 0.44 0.3
2020.1 0.02 0.0
2020.2 -1.78 -1.6
2020.3 -1.18 -1.1
2020.55 -0.73 -0.7
2020.8 -0.43 -0.42
2021.0 -0.13 -0.15
2021.2 0.7 0.45
2021.3 1.15 0.75
2021.5 0.85 0.62
2021.8 0.89 0.65
2022.0 1.0 0.68
2022.3 0.85 0.62
2022.65 0.74 0.56
2023.05 0.55 0.44
2023.5 0.44 0.36
2024.0 0.29 0.26
2024.5 0.21 0.2
2025.0 0.19 0.18
2025.5 0.06 0.06
2025.8 -0.02 -0.02
2026.1 0.1 0.1
}\lineE

\newcommand{\rec}[2]{\addplot[draw=none, fill=black, fill opacity=0.1, forget plot] coordinates {(#1,-3) (#1,3) (#2,3) (#2,-3)} -- cycle;}
\newcommand{\recessions}{%
  \rec{1960.33}{1961.08}\rec{1969.92}{1970.83}\rec{1973.92}{1975.17}%
  \rec{1980.08}{1980.5}\rec{1981.58}{1982.83}\rec{1990.58}{1991.17}%
  \rec{2001.25}{2001.83}\rec{2008.0}{2009.42}\rec{2020.17}{2020.33}}

\newcommand{\band}[3]{% table, fraction, colour
  \addplot[draw=none, name path=bh, forget plot] table[x=x, y expr=\thisrow{c}+#2*(\thisrow{hi}-\thisrow{c})]{#1};
  \addplot[draw=none, name path=bl, forget plot] table[x=x, y expr=\thisrow{c}+#2*(\thisrow{lo}-\thisrow{c})]{#1};
  \addplot[fill=#3, draw=none, forget plot] fill between[of=bh and bl];}

\newcommand{\panelbody}[2]{%
  \band{#1}{1}{bandA}\band{#1}{0.72}{bandB}\band{#1}{0.48}{bandC}\band{#1}{0.26}{bandD}%
  \recessions
  \addplot[black, line width=1.1pt, forget plot] coordinates {(1950,0) (2035,0)};
  \addplot[black, line width=0.6pt, dash pattern=on 2.5pt off 1.5pt, forget plot] coordinates {(2020.17,-2.5) (2020.17,2.5)};
  \addplot[black, line width=0.6pt, dash pattern=on 2.5pt off 1.5pt, forget plot] coordinates {(2021.42,-2.5) (2021.42,2.5)};
  \addplot[blue, line width=0.8pt, dash pattern=on 2.5pt off 1.3pt, forget plot] table[x=x, y=mean]{#2};
  \addplot[blue, line width=0.85pt, forget plot] table[x=x, y=med]{#2};}

\pgfplotsset{
  panel/.style={
    scale only axis, width=515.65pt, height=111.25pt,
    xmin=1956.7, xmax=2028.92, ymin=-2.5, ymax=2.5,
    axis x line*=bottom, axis y line*=left,
    x axis line style={-, line width=0.6pt},
    y axis line style={draw=none},
    xtick={1960,1970,1980,1990,2000,2010,2020},
    xticklabels={1960,1970,1980,1990,2000,2010,2020},
    ytick={-2,-1,0,1,2},
    yticklabels={−2,−1,0,1,2},
    ymajorgrids, grid style={black, line width=0.4pt, dotted},
    tick align=outside, major tick length=2.25pt,
    xtick style={black, line width=0.5pt},
    ytick style={black, line width=0.4pt, dotted},
    ticklabel style={font=\fontsize{6.2}{7}\selectfont},
    xticklabel style={anchor=north, inner sep=0pt, yshift=-6.95pt},
    yticklabel style={anchor=east, inner sep=0pt, xshift=-6.4pt},
    axis on top,
  },
}

\begin{document}
\begin{tikzpicture}

\begin{axis}[panel, at={(34.85pt,-4.875pt)}, anchor=north west,
  legend style={at={(axis cs:1987.39,-0.99)}, anchor=north west,
    font=\fontsize{6.5}{7.5}\selectfont, draw=black!18, line width=0.4pt,
    rounded corners=1.5pt, fill=white, fill opacity=0.8, text opacity=1, draw opacity=1,
    inner sep=1pt, row sep=0.3pt, nodes={inner sep=1.5pt},
    /tikz/every odd column/.append style={column sep=3.5pt}},
  legend cell align=left,
  legend image code/.code={\draw[#1] (0pt,0pt) -- (14pt,0pt);}]
\panelbody{\bandA}{\lineA}
\addlegendimage{blue, line width=0.85pt}
\addlegendentry{Agnostic Median}
\addlegendimage{blue, line width=0.8pt, dash pattern=on 2.5pt off 1.3pt}
\addlegendentry{Agnostic Mean}
\addlegendimage{legend image code/.code={\fill[black!11] (0pt,-3pt) rectangle (14pt,3pt);}}
\addlegendentry{Recession}
\end{axis}

\begin{axis}[panel, at={(34.85pt,-158.375pt)}, anchor=north west]
\panelbody{\bandB}{\lineB}
\end{axis}

\begin{axis}[panel, at={(34.85pt,-312.125pt)}, anchor=north west]
\panelbody{\bandC}{\lineC}
\end{axis}

\begin{axis}[panel, at={(34.85pt,-465.875pt)}, anchor=north west]
\panelbody{\bandD}{\lineD}
\end{axis}

\begin{axis}[panel, at={(36.8pt,-619.375pt)}, anchor=north west, width=513.7pt, xmax=2028.65]
\panelbody{\bandE}{\lineE}
\end{axis}

\foreach \yy in {60.5,214,367.75,521.5} {
  \node[rotate=90, font=\fontsize{7.6}{9}\selectfont] at (9pt,-\yy pt) {Standard deviations};
}
\node[rotate=90, font=\fontsize{7.6}{9}\selectfont] at (11pt,-675pt) {Standard deviations};

\node[font=\capfont\fontsize{14.5}{17}\selectfont] at (280pt,-143.75pt) {(a) Labor Demand};
\node[font=\capfont\fontsize{14.5}{17}\selectfont] at (279.5pt,-297pt) {(b) Long-Run Labor Supply};
\node[font=\capfont\fontsize{14.5}{17}\selectfont] at (279.5pt,-451pt) {(c) Short-Run Labor Supply};
\node[font=\capfont\fontsize{14.5}{17}\selectfont] at (280pt,-604.5pt) {(d) Matching Efficiency};
\node[font=\capfont\fontsize{14.5}{17}\selectfont] at (281.5pt,-758pt) {(e) Kitchen Sink};

\pgfresetboundingbox
\useasboundingbox (0,0) rectangle (550.5pt,-764.5pt);
\end{tikzpicture}
\end{document}
